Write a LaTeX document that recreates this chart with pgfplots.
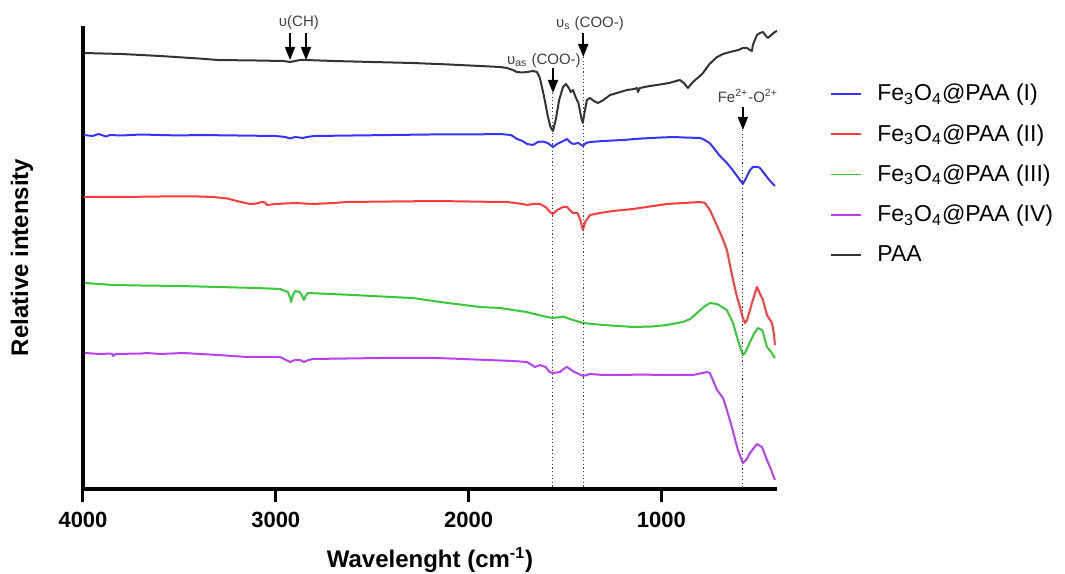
\documentclass[border=0pt]{standalone}
\usepackage{fontspec}
\setmainfont{Liberation Sans}
\usepackage{pgfplots}
\pgfplotsset{compat=1.18}
\usetikzlibrary{arrows.meta}
\definecolor{cI}{HTML}{3535FF}
\definecolor{cII}{HTML}{FF3B3B}
\definecolor{cIII}{HTML}{38C838}
\definecolor{cIV}{HTML}{B840F4}
\definecolor{cPAA}{HTML}{333333}
\definecolor{annot}{HTML}{404040}
\begin{document}
\begin{tikzpicture}
\path[use as bounding box] (-41.5pt,-42pt) rectangle (491pt,244.5pt);
\begin{axis}[
    at={(0,0)}, anchor=south west,
    scale only axis, width=347pt, height=231.5pt,
    x dir=reverse,
    xmin=400, xmax=4000, ymin=-489, ymax=-26,
    axis lines=left,
    axis line style={-, line width=1.6pt, black},
    xtick={1000,2000,3000,4000}, ytick=\empty,
    tick align=outside, major tick length=6.5pt,
    tick style={line width=1.5pt, black},
    /pgf/number format/assume math mode=true,
    /pgf/number format/1000 sep={},
    xticklabel style={font=\bfseries\fontsize{11}{11}\selectfont, anchor=base, yshift=-12.5pt},
    xlabel={Wavelenght (cm\textsuperscript{-1})},
    xlabel style={font=\bfseries\fontsize{12}{12}\selectfont, at={(axis description cs:0.5,0)}, anchor=base, yshift=-39pt},
    ylabel={Relative intensity},
    ylabel style={font=\bfseries\fontsize{12}{12}\selectfont, at={(axis description cs:-0.0879,0.5)}, anchor=center},
    clip=false,
    legend cell align=left,
    legend image code/.code={\draw[#1, line width=0.8pt] (0pt,0pt) -- (15pt,0pt);},
    legend style={at={(rel axis cs:1.0755,0.971)}, anchor=north west, draw=white, fill=white,
        inner sep=0pt, row sep=6.3pt, column sep=6pt,
        font=\fontsize{11.5}{13}\selectfont},
    every axis plot/.append style={line width=1pt, line join=round},
]

% invisible first legend row
\addlegendimage{empty legend}
\addlegendentry{\phantom{F(}}

% Fe3O4@PAA (I)
\addplot[color=cI] coordinates {
(3995,-135) (3950,-136) (3920,-134) (3880,-136.5) (3860,-135) (3800,-135.5)
(3700,-134.5) (3600,-135) (3500,-135.5) (3400,-135) (3200,-135.5) (3000,-136)
(2950,-137) (2926,-138.5) (2900,-137) (2860,-138) (2840,-137) (2800,-136)
(2600,-135.5) (2400,-135) (2200,-134.5) (2000,-134.5) (1837,-134) (1780,-135)
(1749,-139) (1720,-141) (1697,-144) (1666,-145) (1640,-142) (1614,-141.5)
(1590,-143) (1562,-147) (1540,-144) (1510,-141) (1489,-139) (1475,-142)
(1458,-144) (1430,-143) (1407,-146) (1390,-143) (1370,-142) (1300,-141)
(1199,-140) (1100,-138.5) (1000,-137.5) (940,-137) (880,-137.5) (800,-138)
(784,-139) (750,-143) (732,-147) (700,-155) (660,-163) (630,-170) (600,-178)
(577,-184) (560,-178) (540,-170) (525,-167) (500,-167) (488,-168) (460,-175)
(440,-180) (411,-186)
};
\addlegendentry{Fe\textsubscript{3}O\textsubscript{4}@PAA (I)}

% Fe3O4@PAA (II)
\addplot[color=cII] coordinates {
(3995,-197) (3800,-197) (3600,-196.5) (3400,-196.5) (3326,-197) (3250,-198.5)
(3222,-200) (3180,-202) (3134,-204) (3100,-203.5) (3072,-202) (3055,-202.5)
(3046,-205) (3000,-204) (2900,-203) (2807,-204) (2700,-203) (2631,-202)
(2400,-201.5) (2164,-201) (2000,-201.5) (1837,-202) (1801,-202) (1720,-204)
(1697,-205) (1666,-204) (1630,-204) (1600,-207) (1578,-212) (1562,-214)
(1540,-210) (1510,-207) (1489,-207) (1470,-211) (1458,-213) (1435,-213)
(1420,-220) (1407,-230) (1395,-222) (1370,-215) (1318,-213) (1251,-211)
(1147,-209) (1060,-206.5) (971,-204) (880,-203) (800,-202) (774,-203)
(748,-210) (720,-222) (685,-237) (660,-250) (644,-265) (628,-280) (610,-295)
(592,-307) (577,-318) (566,-323) (555,-320) (540,-310) (530,-303) (504,-287)
(490,-293) (473,-300) (452,-315) (426,-323) (415,-335) (411,-345)
};
\addlegendentry{Fe\textsubscript{3}O\textsubscript{4}@PAA (II)}

% Fe3O4@PAA (III)
\addplot[color=cIII] coordinates {
(3990,-283) (3844,-285) (3700,-285.5) (3497,-286) (3300,-287) (3100,-288)
(2978,-289) (2937,-292) (2925,-298) (2921,-302) (2912,-296) (2900,-291)
(2875,-292) (2860,-297) (2854,-300) (2845,-296) (2833,-293) (2600,-295)
(2400,-297) (2288,-298) (2148,-302) (1941,-307) (1837,-308) (1700,-312)
(1593,-317) (1562,-318) (1540,-317.5) (1510,-316.5) (1489,-318) (1458,-320)
(1407,-323) (1300,-325) (1147,-327) (1050,-326.5) (971,-325) (888,-322)
(850,-319) (815,-313) (780,-307) (748,-303) (711,-304) (685,-307) (660,-310)
(628,-323) (603,-340) (577,-355) (566,-353) (540,-342) (520,-334) (499,-328)
(478,-330) (473,-332) (452,-347) (430,-352) (411,-358)
};
\addlegendentry{Fe\textsubscript{3}O\textsubscript{4}@PAA (III)}

% Fe3O4@PAA (IV)
\addplot[color=cIV] coordinates {
(3990,-353) (3912,-354) (3850,-353.5) (3844,-356) (3830,-354) (3700,-353.5)
(3668,-353) (3600,-354) (3480,-353) (3300,-355) (3149,-357) (2978,-357)
(2926,-362) (2900,-360) (2874,-360) (2854,-362) (2830,-360) (2807,-359)
(2459,-358) (2164,-358) (1900,-360) (1770,-361) (1697,-362) (1655,-367)
(1630,-365) (1600,-367) (1580,-372) (1562,-373) (1526,-372) (1500,-368)
(1489,-367) (1460,-371) (1407,-376) (1370,-374) (1300,-375) (1200,-375)
(1100,-374.5) (1000,-375) (900,-375) (836,-375) (763,-372) (748,-373)
(711,-390) (680,-398) (660,-410) (634,-427) (603,-450) (577,-463) (560,-460)
(540,-453) (504,-444) (478,-447) (452,-460) (430,-470) (411,-480)
};
\addlegendentry{Fe\textsubscript{3}O\textsubscript{4}@PAA (IV)}

% PAA
\addplot[color=cPAA] coordinates {
(3995,-53) (3800,-54) (3600,-56) (3400,-58.5) (3300,-60) (3100,-60.5)
(2960,-61) (2926,-62) (2900,-61) (2874,-60) (2843,-60) (2700,-61) (2500,-62)
(2288,-63) (2100,-64.5) (1941,-66) (1837,-67) (1801,-68) (1770,-70)
(1749,-72) (1720,-72.5) (1697,-72) (1666,-71) (1645,-72) (1630,-78)
(1610,-95) (1590,-115) (1575,-127) (1562,-131) (1548,-120) (1530,-100)
(1510,-87) (1495,-84) (1480,-88) (1470,-92) (1458,-90) (1445,-97)
(1430,-103) (1415,-118) (1407,-123) (1398,-112) (1386,-100) (1370,-98)
(1350,-101) (1329,-103) (1300,-100) (1266,-95) (1230,-93) (1178,-90)
(1140,-89) (1126,-88) (1121,-92) (1111,-88) (1060,-86) (1023,-85) (960,-83)
(904,-80) (883,-83) (862,-88) (836,-82) (800,-76) (784,-73) (750,-64)
(711,-57) (680,-54) (644,-52) (600,-50) (577,-48) (556,-48) (540,-50)
(530,-51) (525,-45) (504,-35) (488,-33) (473,-32) (457,-36) (447,-38)
(430,-35) (411,-32) (400,-31)
};
\addlegendentry{PAA\vphantom{(}}

% dotted guide lines
\draw[annot, line width=0.5pt, dash pattern=on 0.6pt off 1.2pt] (axis cs:1562,-93) -- (axis cs:1562,-489);
\draw[annot, line width=0.5pt, dash pattern=on 0.6pt off 1.2pt] (axis cs:1405,-57) -- (axis cs:1405,-489);
\draw[annot, line width=0.5pt, dash pattern=on 0.6pt off 1.2pt] (axis cs:577,-130) -- (axis cs:577,-489);

% arrows
\draw[black, line width=0.8pt, -{Triangle[width=5pt,length=6.5pt]}] (axis cs:2926,-33) -- (axis cs:2926,-60);
\draw[black, line width=0.8pt, -{Triangle[width=5pt,length=6.5pt]}] (axis cs:2843,-33) -- (axis cs:2843,-60);
\draw[black, line width=0.8pt, -{Triangle[width=5pt,length=6.5pt]}] (axis cs:1562,-68) -- (axis cs:1562,-93);
\draw[black, line width=0.8pt, -{Triangle[width=5pt,length=6.5pt]}] (axis cs:1405,-33) -- (axis cs:1405,-57);
\draw[black, line width=0.8pt, -{Triangle[width=5pt,length=6.5pt]}] (axis cs:577,-107) -- (axis cs:577,-130);

% annotation labels
\node[anchor=base, font=\fontsize{7.5}{8}\selectfont, text=annot, inner sep=0pt] at (axis cs:2880,-27) {υ(CH)};
\node[anchor=base, font=\fontsize{7.5}{8}\selectfont, text=annot, inner sep=0pt] at (axis cs:1609,-65) {υ\textsubscript{as} (COO-)};
\node[anchor=base, font=\fontsize{7.5}{8}\selectfont, text=annot, inner sep=0pt] at (axis cs:1370,-28) {υ\textsubscript{s} (COO-)};
\node[anchor=base, font=\fontsize{7.5}{8}\selectfont, text=annot, inner sep=0pt] at (axis cs:551,-103) {Fe\textsuperscript{2+}-O\textsuperscript{2+}};
\end{axis}
\end{tikzpicture}
\end{document}
